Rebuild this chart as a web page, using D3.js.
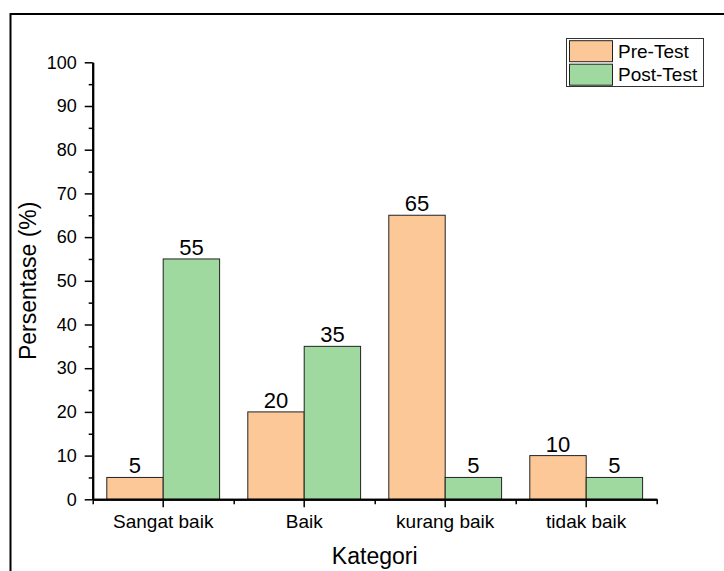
<!DOCTYPE html>
<html>
<head>
<meta charset="utf-8">
<script src="https://cdn.jsdelivr.net/npm/d3@7"></script>
<style>
  body { margin: 0; background: #fff; }
  text { font-family: Arial, "Liberation Sans", sans-serif; fill: #000; }
</style>
</head>
<body>
<div id="chart"></div>
<script>
const categories = ['Sangat baik', 'Baik', 'kurang baik', 'tidak baik'];
const series = ['Pre-Test', 'Post-Test'];
const preTest = [5, 20, 65, 10];
const postTest = [55, 35, 5, 5];
const yTicks = [0, 10, 20, 30, 40, 50, 60, 70, 80, 90, 100];
const colors = ['#fdc897', '#a0d99f'];

const width = 724, height = 571;
const plotLeft = 92.7, plotRight = 656.7, plotTop = 62.3, plotBottom = 499.3;

const svg = d3.select('#chart').append('svg')
  .attr('width', width)
  .attr('height', height);

// outer frame (runs off the page on right and bottom)
svg.append('rect')
  .attr('x', 10.5).attr('y', 14)
  .attr('width', 740).attr('height', 620)
  .attr('fill', 'none')
  .attr('stroke', '#000')
  .attr('stroke-width', 2);

const xScale = d3.scaleBand()
  .domain(categories)
  .range([plotLeft, plotRight])
  .padding(0);

const xInner = d3.scaleBand()
  .domain(series)
  .range([xScale.bandwidth() * 0.1, xScale.bandwidth() * 0.9]);

const yScale = d3.scaleLinear()
  .domain([0, 100])
  .range([plotBottom, plotTop]);

const rows = categories.map((c, i) => ({ cat: c, values: [preTest[i], postTest[i]] }));

const groups = svg.selectAll('.group')
  .data(rows)
  .enter()
  .append('g')
  .attr('transform', d => `translate(${xScale(d.cat)},0)`);

groups.selectAll('rect')
  .data(d => d.values.map((v, j) => ({ s: series[j], v, j })))
  .enter()
  .append('rect')
  .attr('x', d => xInner(d.s))
  .attr('y', d => yScale(d.v))
  .attr('width', xInner.bandwidth())
  .attr('height', d => plotBottom - yScale(d.v))
  .attr('fill', d => colors[d.j])
  .attr('stroke', '#222')
  .attr('stroke-width', 1);

groups.selectAll('.val')
  .data(d => d.values.map((v, j) => ({ s: series[j], v, j })))
  .enter()
  .append('text')
  .attr('x', d => xInner(d.s) + xInner.bandwidth() / 2)
  .attr('y', d => yScale(d.v) - 4)
  .attr('text-anchor', 'middle')
  .style('font-size', '22px')
  .text(d => d.v);

// y axis: major + minor ticks
const yAxis = svg.append('g')
  .attr('transform', `translate(${plotLeft},0)`)
  .call(d3.axisLeft(yScale).tickValues(yTicks).tickSize(8).tickPadding(8).tickSizeOuter(0));
svg.append('g')
  .attr('transform', `translate(${plotLeft},0)`)
  .call(d3.axisLeft(yScale).tickValues(yTicks.slice(0, -1).map(t => t + 5)).tickSize(4).tickFormat('').tickSizeOuter(0));

// x axis: major at categories, minor at band edges
const xAxis = svg.append('g')
  .attr('transform', `translate(0,${plotBottom})`)
  .call(d3.axisBottom(xScale).tickSize(8).tickPadding(7).tickSizeOuter(0));
const edges = d3.range(categories.length + 1).map(i => plotLeft + i * xScale.step());
svg.append('g')
  .attr('transform', `translate(0,${plotBottom})`)
  .call(d3.axisBottom(d3.scaleLinear().domain([plotLeft, plotRight]).range([plotLeft, plotRight]))
    .tickValues(edges).tickSize(5).tickFormat('').tickSizeOuter(0));

svg.selectAll('.domain').attr('stroke', '#000').attr('stroke-width', 2);
svg.selectAll('.tick line').attr('stroke', '#000').attr('stroke-width', 1.5);
yAxis.selectAll('.tick text').style('font-size', '18px').attr('fill', '#000');
xAxis.selectAll('.tick text').style('font-size', '19px').attr('fill', '#000');

// axis titles
svg.append('text')
  .attr('x', (plotLeft + plotRight) / 2)
  .attr('y', 564)
  .attr('text-anchor', 'middle')
  .style('font-size', '23px')
  .text('Kategori');

svg.append('text')
  .attr('transform', `translate(36,${(plotTop + plotBottom) / 2}) rotate(-90)`)
  .attr('text-anchor', 'middle')
  .style('font-size', '23px')
  .text('Persentase (%)');

// legend
const legend = svg.append('g');
legend.append('rect')
  .attr('x', 566.5).attr('y', 38.5)
  .attr('width', 137).attr('height', 48)
  .attr('fill', '#fff')
  .attr('stroke', '#333')
  .attr('stroke-width', 1);
series.forEach((s, i) => {
  legend.append('rect')
    .attr('x', 569.5).attr('y', 40.7 + i * 23.5)
    .attr('width', 43).attr('height', 21)
    .attr('fill', colors[i])
    .attr('stroke', '#222');
  legend.append('text')
    .attr('x', 618)
    .attr('y', 57.5 + i * 23.5)
    .style('font-size', '19px')
    .text(s);
});
</script>
</body>
</html>
